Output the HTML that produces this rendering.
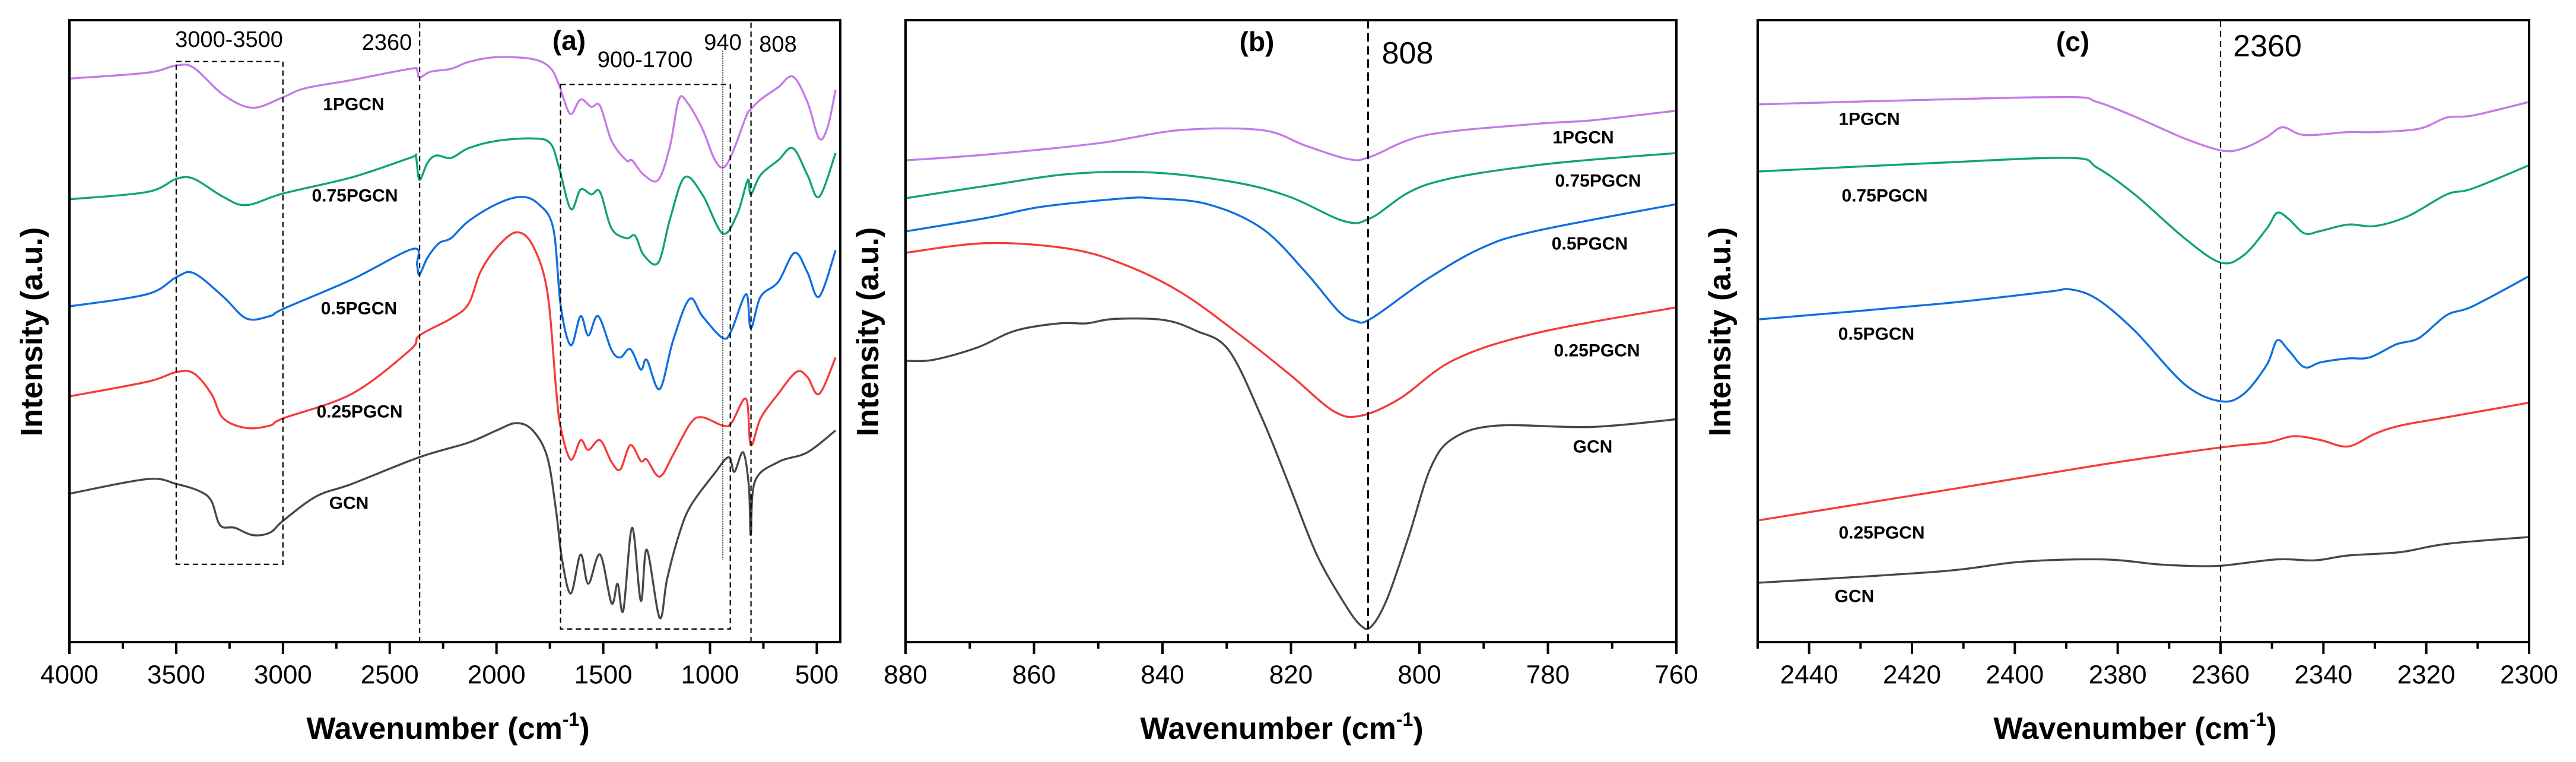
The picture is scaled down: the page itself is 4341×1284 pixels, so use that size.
<!DOCTYPE html>
<html><head><meta charset="utf-8"><style>
html,body{margin:0;padding:0;background:#fff;}
svg{display:block;font-family:"Liberation Sans",Arial,sans-serif;}
</style></head><body>
<svg id="fig" width="4341" height="1284" viewBox="0 0 4341 1284"></svg>
<script>
// ---- Panel (a) data: wavenumber (cm-1) and intensity (a.u.)
const aW_1P=[4000,3636,3499,3417,3280,3143,2998,2897,2678,2405,2372,2361,2309,2213,2131,2000,1830,1748,1707,1688,1652,1606,1556,1515,1461,1392,1365,1310,1242,1187,1146,1105,1036,982,941,900,831,809,763,681,612,544,489,448,412];
const aI_1P=[1158,1170,1185,1180,1125,1098,1120,1138,1155,1178,1175,1160,1172,1178,1192,1202,1198,1180,1145,1120,1085,1115,1100,1102,1030,990,990,960,950,1020,1115,1108,1055,995,975,1000,1080,1095,1115,1140,1162,1110,1035,1060,1135];
const aW_075=[4000,3636,3499,3417,3280,3171,2998,2678,2405,2378,2361,2323,2282,2213,2131,2000,1830,1748,1707,1652,1606,1556,1515,1461,1392,1351,1310,1242,1187,1119,1036,941,872,823,809,763,681,612,544,489,412];
const aI_075=[910,925,952,952,915,898,922,955,995,998,950,985,1000,995,1015,1030,1035,1025,975,890,930,920,925,850,830,835,795,780,870,955,920,840,880,950,920,960,990,1015,960,915,1005];
const aW_05=[4000,3636,3499,3417,3280,3171,3061,2998,2678,2391,2372,2361,2323,2268,2213,2131,2000,1885,1803,1734,1699,1652,1606,1570,1524,1461,1420,1373,1324,1296,1236,1173,1096,1036,941,900,831,809,763,681,604,544,489,412];
const aI_05=[690,715,750,758,710,665,670,685,745,808,775,755,790,820,830,865,900,915,900,850,690,610,670,630,670,600,585,602,560,580,520,620,705,670,625,640,715,645,710,740,800,760,710,805];
const aW_025=[4000,3636,3499,3417,3335,3280,3171,3061,2998,2678,2405,2361,2213,2131,2076,2000,1907,1830,1762,1721,1699,1652,1606,1570,1515,1461,1420,1373,1324,1296,1236,1173,1091,1036,941,900,831,809,763,681,596,544,489,412];
const aI_025=[505,535,555,552,510,460,440,445,460,510,600,630,665,695,760,810,842,815,720,520,440,375,415,395,415,370,355,405,372,375,340,385,450,462,445,450,500,405,460,510,555,545,510,585];
const aW_GCN=[4000,3636,3499,3390,3335,3294,3226,3143,3061,2998,2842,2678,2361,2131,2000,1907,1830,1762,1721,1693,1652,1606,1570,1515,1461,1433,1406,1365,1324,1296,1236,1201,1146,1091,982,913,886,845,818,809,790,681,544,412];
const aI_GCN=[305,335,325,310,290,240,235,220,225,250,300,325,380,410,435,450,435,380,270,170,100,180,120,180,80,120,65,235,85,190,50,130,220,280,345,380,350,390,320,220,330,370,390,435];
// ---- Panel (b) data
const bW=[880,867.2,850.1,837.3,824.5,817.7,810.9,807.5,798.9,781.8,773.3,760];
const bI_1P=[990,1002,1025,1052,1052,1020,992,998,1042,1065,1072,1092];
const bW_075=[880,867.2,854.4,841.6,828.8,820.2,811.7,807.5,798.9,781.8,760];
const bI_075=[912,938,962,965,945,915,865,872,940,980,1005];
const bW_05=[880,867.2,858.6,845.8,841.6,833,824.5,817.7,812.6,810,807.5,798.9,790.3,781.8,760];
const bI_05=[844,872,895,912,912,900,850,760,680,660,665,745,810,845,900];
const bW_025=[880,867.2,854.4,845.8,837.3,828.8,820.2,813.4,809.2,803.1,794.6,781.8,760];
const bI_025=[800,820,808,775,720,640,550,475,465,500,580,635,688];
const bW_GCN=[880,875.7,868.9,862.9,856.1,851.8,847.6,839.9,834.8,829.7,824.5,820.2,816,811.7,809.2,807.5,805,801.6,798.2,794.6,787.8,773.3,760];
const bI_GCN=[578,580,605,640,655,655,664,662,640,600,460,320,180,80,35,32,90,220,360,420,445,442,458];
// ---- Panel (c) data
const cW_1P=[2450,2414.8,2389.3,2384,2376.7,2367,2359.7,2355.5,2351,2347.9,2343.7,2335.2,2330,2321.4,2316,2311,2300];
const cI_1P=[1105,1115,1120,1110,1080,1035,1010,1015,1038,1058,1042,1048,1048,1055,1078,1082,1110];
const cW_075=[2450,2414.8,2389.3,2384,2376.7,2367,2360,2355.5,2351,2349,2346.8,2343.7,2340.5,2335.2,2330,2323.6,2316,2311,2300];
const cI_075=[967,985,995,975,920,830,780,795,850,882,870,840,845,858,855,875,920,932,980];
const cW_05=[2450,2414.8,2393.6,2389.3,2384,2376.7,2367,2360,2355.5,2351,2349,2346.8,2343.7,2340.5,2335.2,2331,2325.8,2321.4,2316,2311,2300];
const cI_05=[663,695,720,725,705,640,530,495,510,570,620,600,565,575,583,585,612,625,672,690,752];
const cW_025=[2450,2414.8,2383,2360,2351,2345.8,2340.5,2335.2,2330,2325,2316,2300];
const cI_025=[250,310,365,400,410,423,415,402,428,445,462,492];
const cW_GCN=[2450,2414.8,2398.9,2383,2372.4,2367,2360,2349,2341.6,2335.2,2325,2316,2300];
const cI_GCN=[122,145,165,170,160,157,157,170,168,178,185,202,216];

const NS='http://www.w3.org/2000/svg';
const svg=document.getElementById('fig');
function mk(tag,attrs,parent){const e=document.createElementNS(NS,tag);for(const k in attrs)e.setAttribute(k,attrs[k]);(parent||svg).appendChild(e);return e;}
function txt(s,x,y,size,weight,anchor,parent){const t=mk('text',{x:x,y:y,'font-size':size,'font-weight':weight||'normal','text-anchor':anchor||'middle','dominant-baseline':'central',fill:'#000'},parent);t.textContent=s;return t;}

function panel(id,L,R,wL,wR,major,minor){
  const T=34,B=1082;
  const g=mk('g',{});
  
  
  const sx=w=>L+(wL-w)/(wL-wR)*(R-L);
  const sy=v=>B-v/1278*(B-T);
  const lo=Math.min(wL,wR),hi=Math.max(wL,wR);
  for(let w=Math.ceil(lo/minor)*minor;w<=hi+1e-6;w+=minor){
    const isMaj=Math.abs(w/major-Math.round(w/major))<1e-6;
    const t=mk('line',{x1:sx(w),x2:sx(w),y1:B,y2:B+(isMaj?20:11),stroke:'#000','stroke-width':4},g);
    
    
    if(isMaj){const l=txt(String(w),sx(w),1137,44,'normal','middle',g);
      
      }
  }
  return {g,sx,sy,T,B,L,R};
}
function frame(p){
  const f=mk('rect',{x:p.L,y:p.T,width:p.R-p.L,height:p.B-p.T,fill:'none',stroke:'#000','stroke-width':4},p.g);
  
  
}
function series(p,W,I,color,name){
  const P=W.map((w,i)=>[p.sx(w),p.sy(I[i])]);
  let d='M'+P[0][0].toFixed(1)+','+P[0][1].toFixed(1);
  for(let i=0;i<P.length-1;i++){
    const p0=P[Math.max(0,i-1)],p1=P[i],p2=P[i+1],p3=P[Math.min(P.length-1,i+2)];
    const c1=[p1[0]+(p2[0]-p0[0])/6,p1[1]+(p2[1]-p0[1])/6];
    const c2=[p2[0]-(p3[0]-p1[0])/6,p2[1]-(p3[1]-p1[1])/6];
    d+=' C'+c1[0].toFixed(1)+','+c1[1].toFixed(1)+' '+c2[0].toFixed(1)+','+c2[1].toFixed(1)+' '+p2[0].toFixed(1)+','+p2[1].toFixed(1);
  }
  const e=mk('path',{d:d,fill:'none',stroke:color,'stroke-width':3.4,'stroke-linejoin':'round'},p.g);
  
  
}
function vline(p,w,v1,v2,dash,name,width){
  const e=mk('line',{x1:p.sx(w),x2:p.sx(w),y1:p.sy(v1),y2:p.sy(v2),stroke:'#000','stroke-width':width||2.2,'stroke-dasharray':dash},p.g);
  
  
}
function label(p,s,x,y,size,weight,name){const t=txt(s,x,y,size,weight,'middle',p.g);
  
  }
function titles(p,cx,yx){
  const t=txt('Wavenumber (cm',cx-14,1228,52,'bold','middle',p.g);
  
  
  const ts=mk('tspan',{'font-size':32,dy:-16},t);ts.textContent='-1';
  const tc=mk('tspan',{'font-size':52,dy:16},t);tc.textContent=')';
  const y=mk('text',{x:0,y:0,'font-size':52,'font-weight':'bold','text-anchor':'middle','dominant-baseline':'central',transform:'translate('+yx+',559) rotate(-90)'},p.g);
  y.textContent='Intensity (a.u.)';
  
  
}
const COL={p:'#c57ae6',g:'#10a56b',b:'#0f6fe0',r:'#f53b3b',k:'#474747'};

const A=panel('a',117,1416,4000,390,500,250);
series(A,aW_1P,aI_1P,COL.p,'series-1pgcn');
series(A,aW_075,aI_075,COL.g,'series-075pgcn');
series(A,aW_05,aI_05,COL.b,'series-05pgcn');
series(A,aW_025,aI_025,COL.r,'series-025pgcn');
series(A,aW_GCN,aI_GCN,COL.k,'series-gcn');
{const b=mk('rect',{x:A.sx(3500),y:A.sy(1193),width:A.sx(3000)-A.sx(3500),height:A.sy(160)-A.sy(1193),fill:'none',stroke:'#000','stroke-width':2.2,'stroke-dasharray':'9,6'},A.g);


const b2=mk('rect',{x:A.sx(1700),y:A.sy(1146),width:A.sx(905)-A.sx(1700),height:A.sy(27)-A.sy(1146),fill:'none',stroke:'#000','stroke-width':2.2,'stroke-dasharray':'9,6'},A.g);

}
vline(A,2360,0,1278,'9,6','line-2360');
vline(A,940,1215,170,'2,2','line-940',1.6);
vline(A,808,0,1278,'9,6','line-808');
frame(A);
label(A,'3000-3500',386,67,38,'normal','label-3000-3500');
label(A,'2360',652,72,38,'normal','label-2360');
label(A,'(a)',959,68,46,'bold','panel-label-a');
label(A,'900-1700',1087,101,38,'normal','label-900-1700');
label(A,'940',1218,72,38,'normal','label-940');
label(A,'808',1311,75,38,'normal','label-808');
label(A,'1PGCN',596,176,30,'bold','label-1pgcn');
label(A,'0.75PGCN',598,330,30,'bold','label-075pgcn');
label(A,'0.5PGCN',605,520,30,'bold','label-05pgcn');
label(A,'0.25PGCN',606,694,30,'bold','label-025pgcn');
label(A,'GCN',588,848,30,'bold','label-gcn');
titles(A,769,54);

const Bp=panel('b',1526,2825,880,760,20,10);
series(Bp,bW,bI_1P,COL.p,'series-1pgcn');
series(Bp,bW_075,bI_075,COL.g,'series-075pgcn');
series(Bp,bW_05,bI_05,COL.b,'series-05pgcn');
series(Bp,bW_025,bI_025,COL.r,'series-025pgcn');
series(Bp,bW_GCN,bI_GCN,COL.k,'series-gcn');
vline(Bp,808,0,1278,'14,8','line-808',3);
frame(Bp);
label(Bp,'(b)',2118,70,46,'bold','panel-label-b');
label(Bp,'808',2372,90,52,'normal','label-808');
label(Bp,'1PGCN',2668,232,30,'bold','label-1pgcn');
label(Bp,'0.75PGCN',2693,305,30,'bold','label-075pgcn');
label(Bp,'0.5PGCN',2679,411,30,'bold','label-05pgcn');
label(Bp,'0.25PGCN',2691,591,30,'bold','label-025pgcn');
label(Bp,'GCN',2684,753,30,'bold','label-gcn');
titles(Bp,2174,1463);

const C=panel('c',2962,4262,2450,2300,20,10);
series(C,cW_1P,cI_1P,COL.p,'series-1pgcn');
series(C,cW_075,cI_075,COL.g,'series-075pgcn');
series(C,cW_05,cI_05,COL.b,'series-05pgcn');
series(C,cW_025,cI_025,COL.r,'series-025pgcn');
series(C,cW_GCN,cI_GCN,COL.k,'series-gcn');
vline(C,2360,0,1278,'10,7','line-2360',2.2);
frame(C);
label(C,'(c)',3493,70,46,'bold','panel-label-c');
label(C,'2360',3821,78,52,'normal','label-2360');
label(C,'1PGCN',3150,201,30,'bold','label-1pgcn');
label(C,'0.75PGCN',3176,330,30,'bold','label-075pgcn');
label(C,'0.5PGCN',3162,563,30,'bold','label-05pgcn');
label(C,'0.25PGCN',3171,898,30,'bold','label-025pgcn');
label(C,'GCN',3125,1005,30,'bold','label-gcn');
titles(C,3612,2899);
</script>
</body></html>
